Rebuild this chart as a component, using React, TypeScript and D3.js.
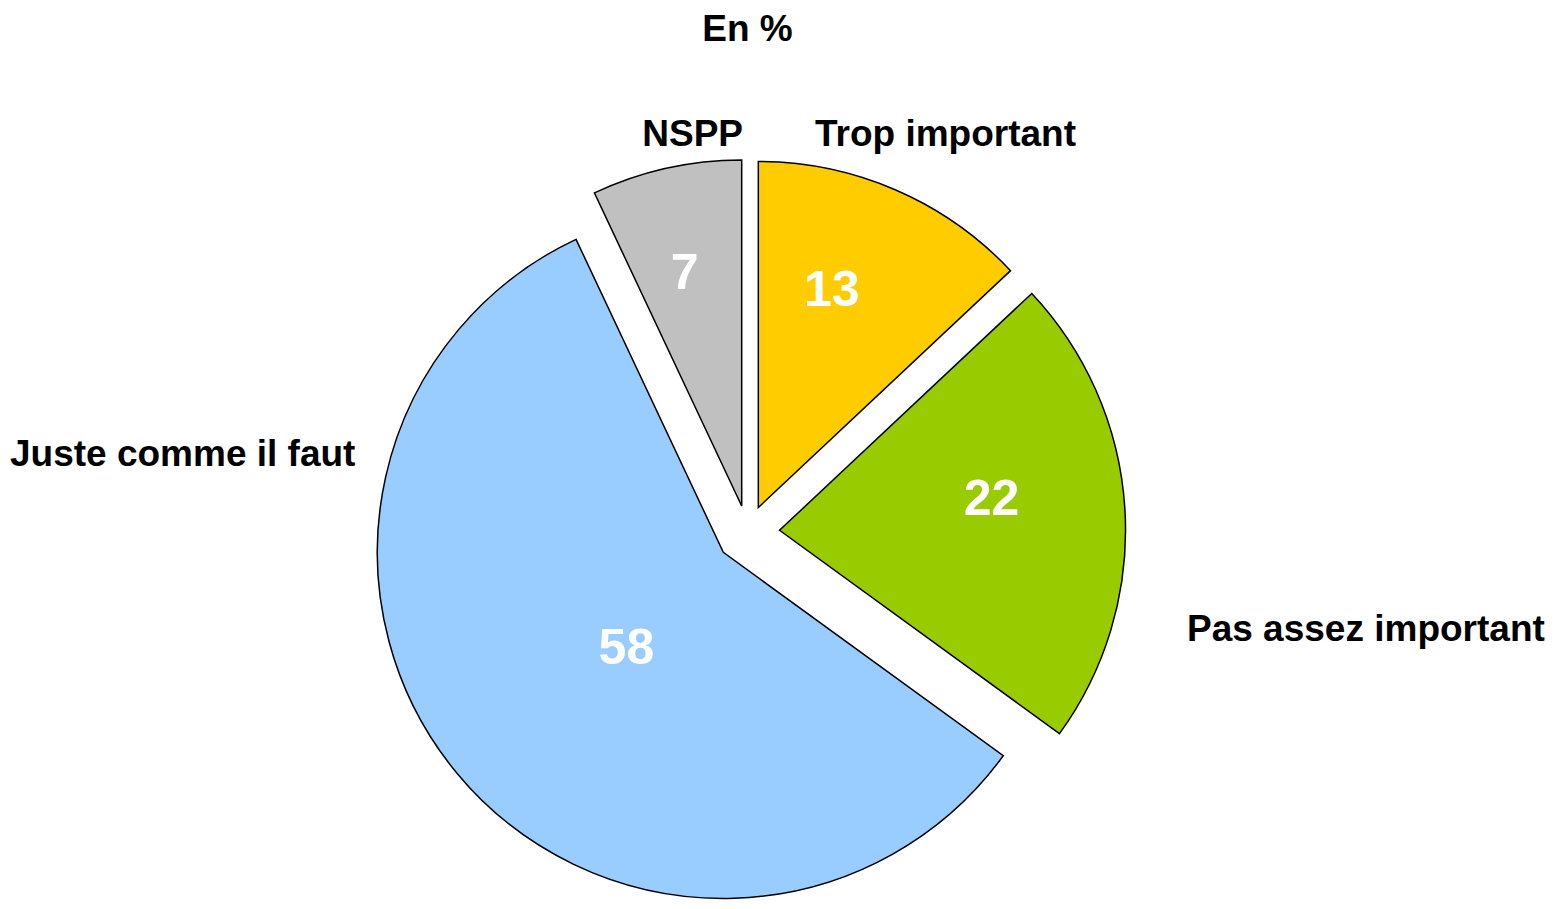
import React from "react";
import * as d3 from "d3";

const categories = ["Trop important", "Pas assez important", "Juste comme il faut", "NSPP"];
const values = [13, 22, 58, 7];
const colors = ["#FFCC00", "#99CC00", "#99CCFF", "#C0C0C0"];

// layout (explosion offsets, value-label placement, category label placement)
const explode = [27, 32, 31.5, 27];
const labelFrac = [0.67, 0.62, 0.39, 0.7];
const labelAngleOffsetDeg = [-4.9, -5.3, -4.5, -1.0];
const catLabelPos: { x: number; y: number; anchor: string }[] = [
  { x: 815, y: 146, anchor: "start" },
  { x: 1187, y: 641, anchor: "start" },
  { x: 10, y: 466, anchor: "start" },
  { x: 743, y: 146, anchor: "end" },
];

const W = 1561;
const H = 909;
const CX = 747.6;
const CY = 532.3;
const R = 346;
const FONT = "'Liberation Sans', Arial, Helvetica, sans-serif";

export default function App() {
  const pie = d3
    .pie<number>()
    .sort(null)
    .value((d) => d)
    .startAngle(0)
    .endAngle(2 * Math.PI);
  const arcs = pie(values);
  const arcGen = d3.arc<d3.PieArcDatum<number>>().innerRadius(0).outerRadius(R);

  return (
    <svg
      width={W}
      height={H}
      style={{ position: "absolute", left: 0, top: 0, background: "#fff" }}
      fontFamily={FONT}
    >
      <text x={747.5} y={41} textAnchor="middle" fontSize={37} fontWeight="bold" fill="#000">
        En %
      </text>
      {arcs.map((a, i) => {
        const mid = (a.startAngle + a.endAngle) / 2;
        const ox = CX + explode[i] * Math.sin(mid);
        const oy = CY - explode[i] * Math.cos(mid);
        const la = mid + (labelAngleOffsetDeg[i] * Math.PI) / 180;
        const lx = ox + labelFrac[i] * R * Math.sin(la);
        const ly = oy - labelFrac[i] * R * Math.cos(la);
        return (
          <g key={categories[i]}>
            <path
              d={arcGen(a) || ""}
              transform={`translate(${ox},${oy})`}
              fill={colors[i]}
              stroke="#000"
              strokeWidth={1.5}
              strokeLinejoin="miter"
            />
            <text
              x={lx}
              y={ly + 18}
              textAnchor="middle"
              fontSize={50}
              fontWeight="bold"
              fill="#fff"
            >
              {values[i]}
            </text>
          </g>
        );
      })}
      {categories.map((c, i) => (
        <text
          key={c}
          x={catLabelPos[i].x}
          y={catLabelPos[i].y}
          textAnchor={catLabelPos[i].anchor as any}
          fontSize={37}
          fontWeight="bold"
          fill="#000"
        >
          {c}
        </text>
      ))}
    </svg>
  );
}
